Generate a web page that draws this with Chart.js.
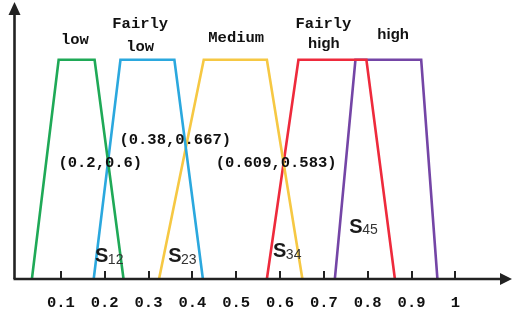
<!DOCTYPE html>
<html><head><meta charset="utf-8">
<script src="https://cdn.jsdelivr.net/npm/chart.js@4/dist/chart.umd.min.js"></script>
<style>html,body{margin:0;padding:0;background:#fff}#wrap{width:512px;height:318px}</style>
</head><body><div id="wrap"><canvas id="c" width="512" height="318"></canvas></div>
<script>
// Fuzzy sets (trapezoids): x breakpoints and membership values
const categories = ['low', 'Fairly low', 'Medium', 'Fairly high', 'high'];
const membership = [0, 1, 1, 0];
const lowX        = [0.034, 0.095, 0.177, 0.243];
const fairlyLowX  = [0.175, 0.236, 0.359, 0.424];
const mediumX     = [0.324, 0.426, 0.570, 0.651];
const fairlyHighX = [0.570, 0.642, 0.797, 0.862];
const highX       = [0.725, 0.772, 0.922, 0.959];
const tickValues  = [0.1, 0.2, 0.3, 0.4, 0.5, 0.6, 0.7, 0.8, 0.9, 1];
// Intersection annotations
const pointLabels = ['(0.2,0.6)', '(0.38,0.667)', '(0.609,0.583)'];
const areaLabels  = [['S', '12'], ['S', '23'], ['S', '34'], ['S', '45']];

const seriesX = [lowX, fairlyLowX, mediumX, fairlyHighX, highX];
const colors = ['#1fa957', '#2ba8de', '#f6c843', '#ee2a3c', '#7445a6'];

const datasets = seriesX.map((xs, i) => ({
  label: categories[i],
  data: xs.map((x, j) => ({x: x, y: membership[j]})),
  showLine: true, borderColor: colors[i], borderWidth: 2.6,
  pointRadius: 0, tension: 0, fill: false
}));

// annotation placement (data coordinates)
const catLabelPos = [
  {t: 'low', x: 0.132, y: 1.089, f: 'mono'},
  {t: 'Fairly', x: 0.281, y: 1.162, f: 'mono'},
  {t: 'low', x: 0.281, y: 1.057, f: 'mono'},
  {t: 'Medium', x: 0.50, y: 1.098, f: 'mono'},
  {t: 'Fairly', x: 0.699, y: 1.162, f: 'mono'},
  {t: 'high', x: 0.700, y: 1.071, f: 'sans'},
  {t: 'high', x: 0.858, y: 1.112, f: 'sans'}
];
const pointLabelPos = [{x: 0.19, y: 0.528}, {x: 0.361, y: 0.633}, {x: 0.591, y: 0.528}];
const areaLabelPos = [{x: 0.178, y: 0.0775}, {x: 0.345, y: 0.0775}, {x: 0.584, y: 0.100}, {x: 0.758, y: 0.210}];

const MONO = 'bold 15.5px "Liberation Mono", "DejaVu Sans Mono", monospace';
const SANS = '600 15px "Liberation Sans", Arial, sans-serif';

const axesPlugin = {
  id: 'axes',
  afterDatasetsDraw(chart) {
    const ctx = chart.ctx, xs = chart.scales.x, ys = chart.scales.y;
    const x0 = xs.getPixelForValue(0) - 2.5, y0 = ys.getPixelForValue(0);
    ctx.save();
    ctx.strokeStyle = '#222'; ctx.fillStyle = '#222'; ctx.lineWidth = 2.6;
    // x axis
    ctx.beginPath(); ctx.moveTo(x0 - 1, y0); ctx.lineTo(chart.width - 8, y0); ctx.stroke();
    ctx.beginPath(); ctx.moveTo(chart.width, y0); ctx.lineTo(chart.width - 12, y0 - 6); ctx.lineTo(chart.width - 12, y0 + 6); ctx.closePath(); ctx.fill();
    // y axis
    ctx.beginPath(); ctx.moveTo(x0, y0); ctx.lineTo(x0, 12); ctx.stroke();
    ctx.beginPath(); ctx.moveTo(x0, 2); ctx.lineTo(x0 - 6, 15); ctx.lineTo(x0 + 6, 15); ctx.closePath(); ctx.fill();
    // tick marks
    ctx.lineWidth = 2;
    tickValues.forEach(v => {
      const px = Math.round(xs.getPixelForValue(v));
      ctx.beginPath(); ctx.moveTo(px, y0 - 8); ctx.lineTo(px, y0); ctx.stroke();
    });
    // category labels
    ctx.fillStyle = '#111'; ctx.textAlign = 'center'; ctx.textBaseline = 'middle';
    catLabelPos.forEach(l => {
      ctx.font = l.f === 'mono' ? MONO : SANS;
      ctx.fillText(l.t, xs.getPixelForValue(l.x), ys.getPixelForValue(l.y));
    });
    ctx.font = MONO;
    pointLabels.forEach((t, i) => {
      ctx.fillText(t, xs.getPixelForValue(pointLabelPos[i].x), ys.getPixelForValue(pointLabelPos[i].y));
    });
    // area labels with subscripts
    ctx.textAlign = 'left'; ctx.textBaseline = 'alphabetic';
    areaLabels.forEach((l, i) => {
      const px = xs.getPixelForValue(areaLabelPos[i].x), py = ys.getPixelForValue(areaLabelPos[i].y);
      ctx.font = 'bold 20px "Liberation Sans", Arial, sans-serif';
      ctx.fillStyle = '#1a1a1a';
      ctx.fillText(l[0], px, py);
      const w = ctx.measureText(l[0]).width;
      ctx.font = '14px "Liberation Sans", Arial, sans-serif';
      ctx.fillStyle = '#333';
      ctx.fillText(l[1], px + w - 0.5, py + 1.5);
    });
    ctx.restore();
  }
};

new Chart(document.getElementById('c'), {
  type: 'scatter',
  data: {datasets},
  options: {
    responsive: false, animation: false,
    layout: {padding: {left: 17, right: 4, top: 5, bottom: 6}},
    plugins: {legend: {display: false}, tooltip: {enabled: false}},
    scales: {
      x: {
        type: 'linear', min: 0, max: 1.12,
        grid: {display: false, drawTicks: false}, border: {display: false},
        afterBuildTicks: s => { s.ticks = tickValues.map(v => ({value: v})); },
        afterFit: s => { s.height = 33; },
        ticks: {
          autoSkip: false, maxRotation: 0, padding: 15, color: '#111',
          font: {family: '"Liberation Mono", "DejaVu Sans Mono", monospace', size: 15.5, weight: 'bold'},
          callback: v => (v === 1 ? '1' : v.toFixed(1))
        }
      },
      y: {min: 0, max: 1.25, display: false}
    }
  },
  plugins: [axesPlugin]
});
</script></body></html>
